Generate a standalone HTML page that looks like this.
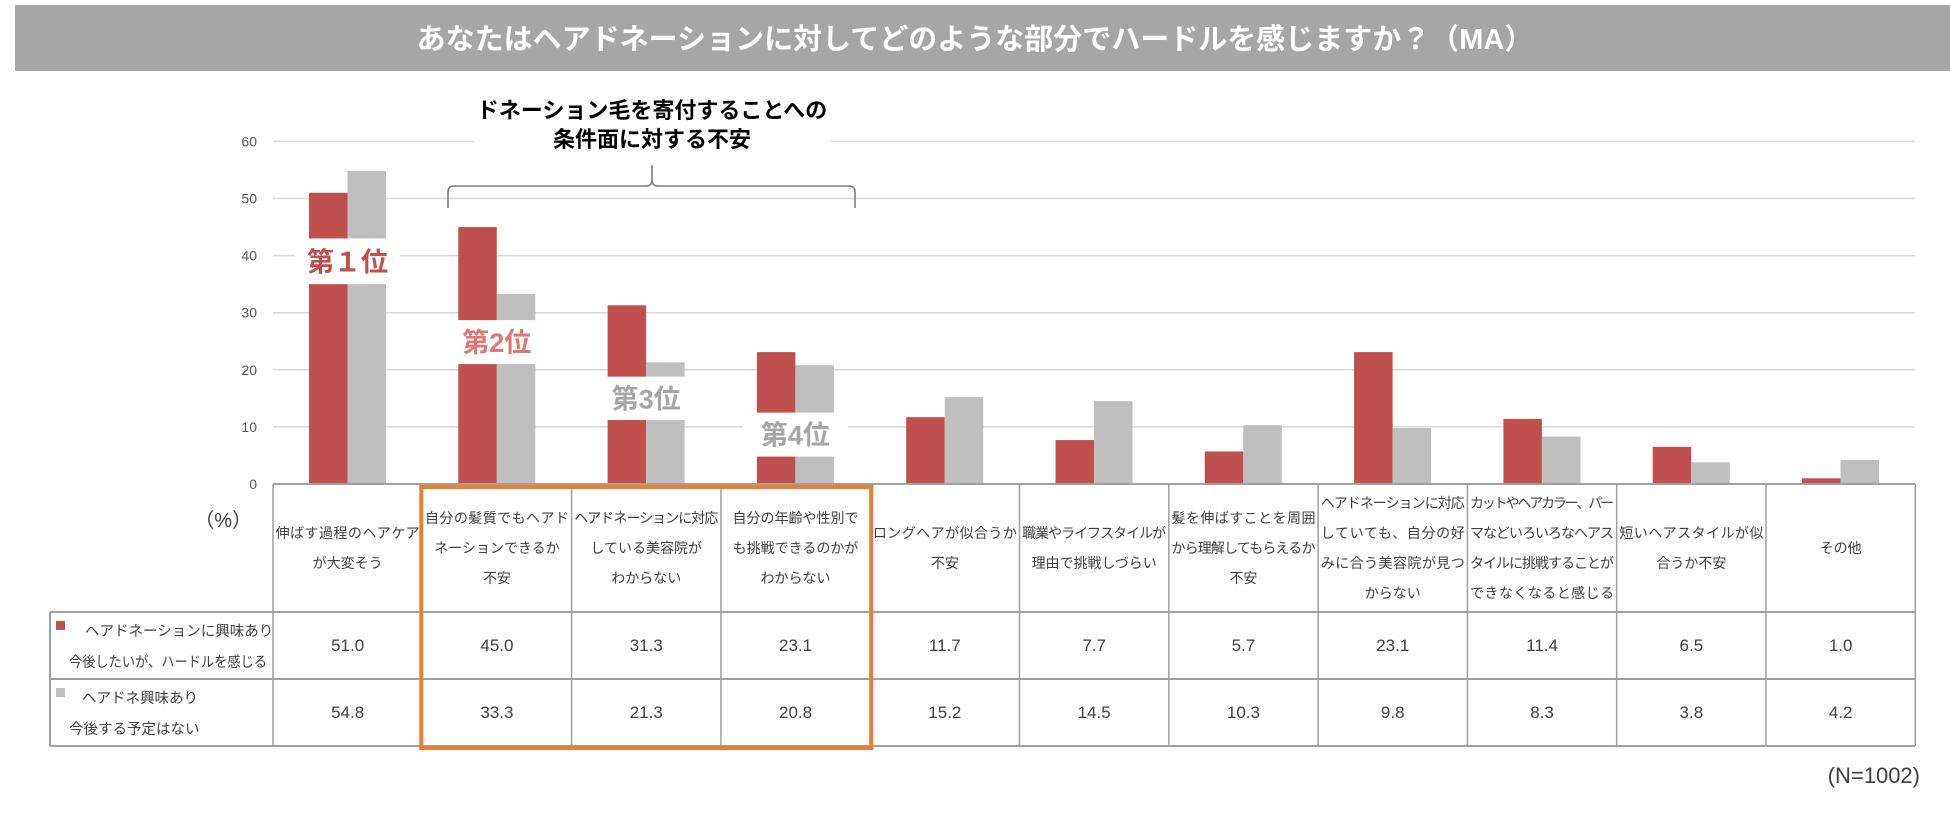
<!DOCTYPE html>
<html><head><meta charset="utf-8">
<style>
html,body{margin:0;padding:0;background:#fff;}
svg{display:block;font-family:"Liberation Sans","Noto Sans CJK JP",sans-serif;}
</style></head>
<body>
<svg id="chart" width="1950" height="815" viewBox="0 0 1950 815">
<rect x="15" y="5" width="1935" height="66" fill="#a6a6a6"/>
<text x="975" y="49" text-anchor="middle" font-size="29" font-weight="bold" fill="#fff">あなたはヘアドネーションに対してどのような部分でハードルを感じますか？（MA）</text>
<g id="grid"></g>
<g id="bars"></g>
<g id="table"></g>
<g id="labels"></g>
<text x="1920" y="783" text-anchor="end" font-size="22" fill="#404040">(N=1002)</text>
<text x="252" y="527" text-anchor="end" font-size="20" fill="#404040">（%）</text>
</svg>
<script>
const categories = [
 ["伸ばす過程のヘアケア","が大変そう"],
 ["自分の髪質でもヘアド","ネーションできるか","不安"],
 ["ヘアドネーションに対応","している美容院が","わからない"],
 ["自分の年齢や性別で","も挑戦できるのかが","わからない"],
 ["ロングヘアが似合うか","不安"],
 ["職業やライフスタイルが","理由で挑戦しづらい"],
 ["髪を伸ばすことを周囲","から理解してもらえるか","不安"],
 ["ヘアドネーションに対応","していても、自分の好","みに合う美容院が見つ","からない"],
 ["カットやヘアカラー、パー","マなどいろいろなヘアス","タイルに挑戦することが","できなくなると感じる"],
 ["短いヘアスタイルが似","合うか不安"],
 ["その他"]
];
const seriesInterested = [51.0,45.0,31.3,23.1,11.7,7.7,5.7,23.1,11.4,6.5,1.0];
const seriesNotPlanned = [54.8,33.3,21.3,20.8,15.2,14.5,10.3,9.8,8.3,3.8,4.2];
const yTicks = [0,10,20,30,40,50,60];
const rankLabels = ["第１位","第2位","第3位","第4位"];
const rankBoxes = [[35,43],[21,28.7],[11.2,18.8],[4.8,12.5]];

const NS="http://www.w3.org/2000/svg";
const X0=273, GW=149.3, Y0=484, PPU=5.71, BW=38.5;
const yS=v=>Y0-v*PPU;
const gx=i=>X0+i*GW;
function mk(tag,attrs,parent,txt){const e=document.createElementNS(NS,tag);for(const k in attrs)e.setAttribute(k,attrs[k]);if(txt!==undefined)e.textContent=txt;parent.appendChild(e);return e;}
const grid=document.getElementById('grid'),bars=document.getElementById('bars'),tbl=document.getElementById('table'),lab=document.getElementById('labels');

yTicks.forEach(t=>{
 if(t>0){const l=mk('line',{x1:X0,x2:1915,y1:yS(t),y2:yS(t),stroke:'#d9d9d9','stroke-width':1.5},grid);
 
 }
 const tx=mk('text',{x:257,y:yS(t)+5,'text-anchor':'end','font-size':14,fill:'#595959'},grid,String(t));
 
 
});
mk('rect',{x:474,y:128,width:357,height:30,fill:'#fff'},grid);

categories.forEach((c,i)=>{
 const r=mk('rect',{x:gx(i)+36,y:yS(seriesInterested[i]),width:BW,height:seriesInterested[i]*PPU,fill:'#c0504d'},bars);
 
 
 const g=mk('rect',{x:gx(i)+36+BW,y:yS(seriesNotPlanned[i]),width:BW,height:seriesNotPlanned[i]*PPU,fill:'#bfbfbf'},bars);
 
 
});

const rankColors=['#c0504d','#e07676','#a6a6a6','#a6a6a6'];
rankLabels.forEach((t,i)=>{
 const b=rankBoxes[i];
 mk('rect',{x:gx(i)+22,y:yS(b[1]),width:105,height:(b[1]-b[0])*PPU,fill:'#fff'},lab);
 const tx=mk('text',{x:gx(i)+74.5,y:(yS(b[1])+yS(b[0]))/2+10,'text-anchor':'middle','font-size':27,'font-weight':'bold',fill:rankColors[i]},lab,t);
 
 
});

let a=mk('text',{x:652,y:118,'text-anchor':'middle','font-size':22,'font-weight':'bold',fill:'#000'},lab,'ドネーション毛を寄付することへの');


a=mk('text',{x:652,y:147,'text-anchor':'middle','font-size':22,'font-weight':'bold',fill:'#000'},lab,'条件面に対する不安');


a=mk('path',{d:'M448 208 V192 Q448 186 454 186 H646 Q652 186 652 180 V165 M652 180 Q652 186 658 186 H849 Q855 186 855 192 V208',fill:'none',stroke:'#7f7f7f','stroke-width':1.6},lab);



const TOP=484,H1=612,R1=679,R2=746,TL=50,TR=1915;
const bc='#a0a0a0';
[[X0,TOP,TR,TOP],[TL,H1,TR,H1],[TL,R1,TR,R1],[TL,R2,TR,R2],[TL,H1,TL,R2]].forEach(l=>mk('line',{x1:l[0],y1:l[1],x2:l[2],y2:l[3],stroke:bc,'stroke-width':2},tbl));
for(let i=0;i<=11;i++)mk('line',{x1:gx(i),y1:TOP,x2:gx(i),y2:R2,stroke:bc,'stroke-width':1.5},tbl);
categories.forEach((c,i)=>{
 const n=c.length, cy=548, lh=30;
 c.forEach((s,j)=>{
  const t=mk('text',{x:gx(i)+GW/2,y:cy+(j-(n-1)/2)*lh+5,'text-anchor':'middle','font-size':14,fill:'#404040'},tbl,s);
  if(s.length>=10)t.setAttribute('textLength',144);
  
  
 });
 let v=mk('text',{x:gx(i)+GW/2,y:651,'text-anchor':'middle','font-size':17,fill:'#404040'},tbl,seriesInterested[i].toFixed(1));
 
 
 v=mk('text',{x:gx(i)+GW/2,y:718,'text-anchor':'middle','font-size':17,fill:'#404040'},tbl,seriesNotPlanned[i].toFixed(1));
 
 
});
let e=mk('rect',{x:56,y:621,width:9,height:9,fill:'#c0504d'},tbl);


e=mk('text',{x:85,y:636,'font-size':14.5,fill:'#404040'},tbl,'ヘアドネーションに興味あり');


e=mk('text',{x:69,y:667,'font-size':14.5,fill:'#404040',textLength:198,lengthAdjust:'spacingAndGlyphs'},tbl,'今後したいが、ハードルを感じる');


e=mk('rect',{x:56,y:688,width:9,height:9,fill:'#bfbfbf'},tbl);


e=mk('text',{x:82,y:703,'font-size':14.5,fill:'#404040'},tbl,'ヘアドネ興味あり');


e=mk('text',{x:69,y:734,'font-size':14.5,fill:'#404040'},tbl,'今後する予定はない');


e=mk('rect',{x:gx(1)-1,y:TOP+3,width:3*GW+2,height:R2-TOP-1,fill:'none',stroke:'#ed7d31','stroke-width':4},tbl);


mk('line',{x1:X0,x2:TR,y1:Y0,y2:Y0,stroke:'#a0a0a0','stroke-width':2},tbl);
</script>
</body></html>
